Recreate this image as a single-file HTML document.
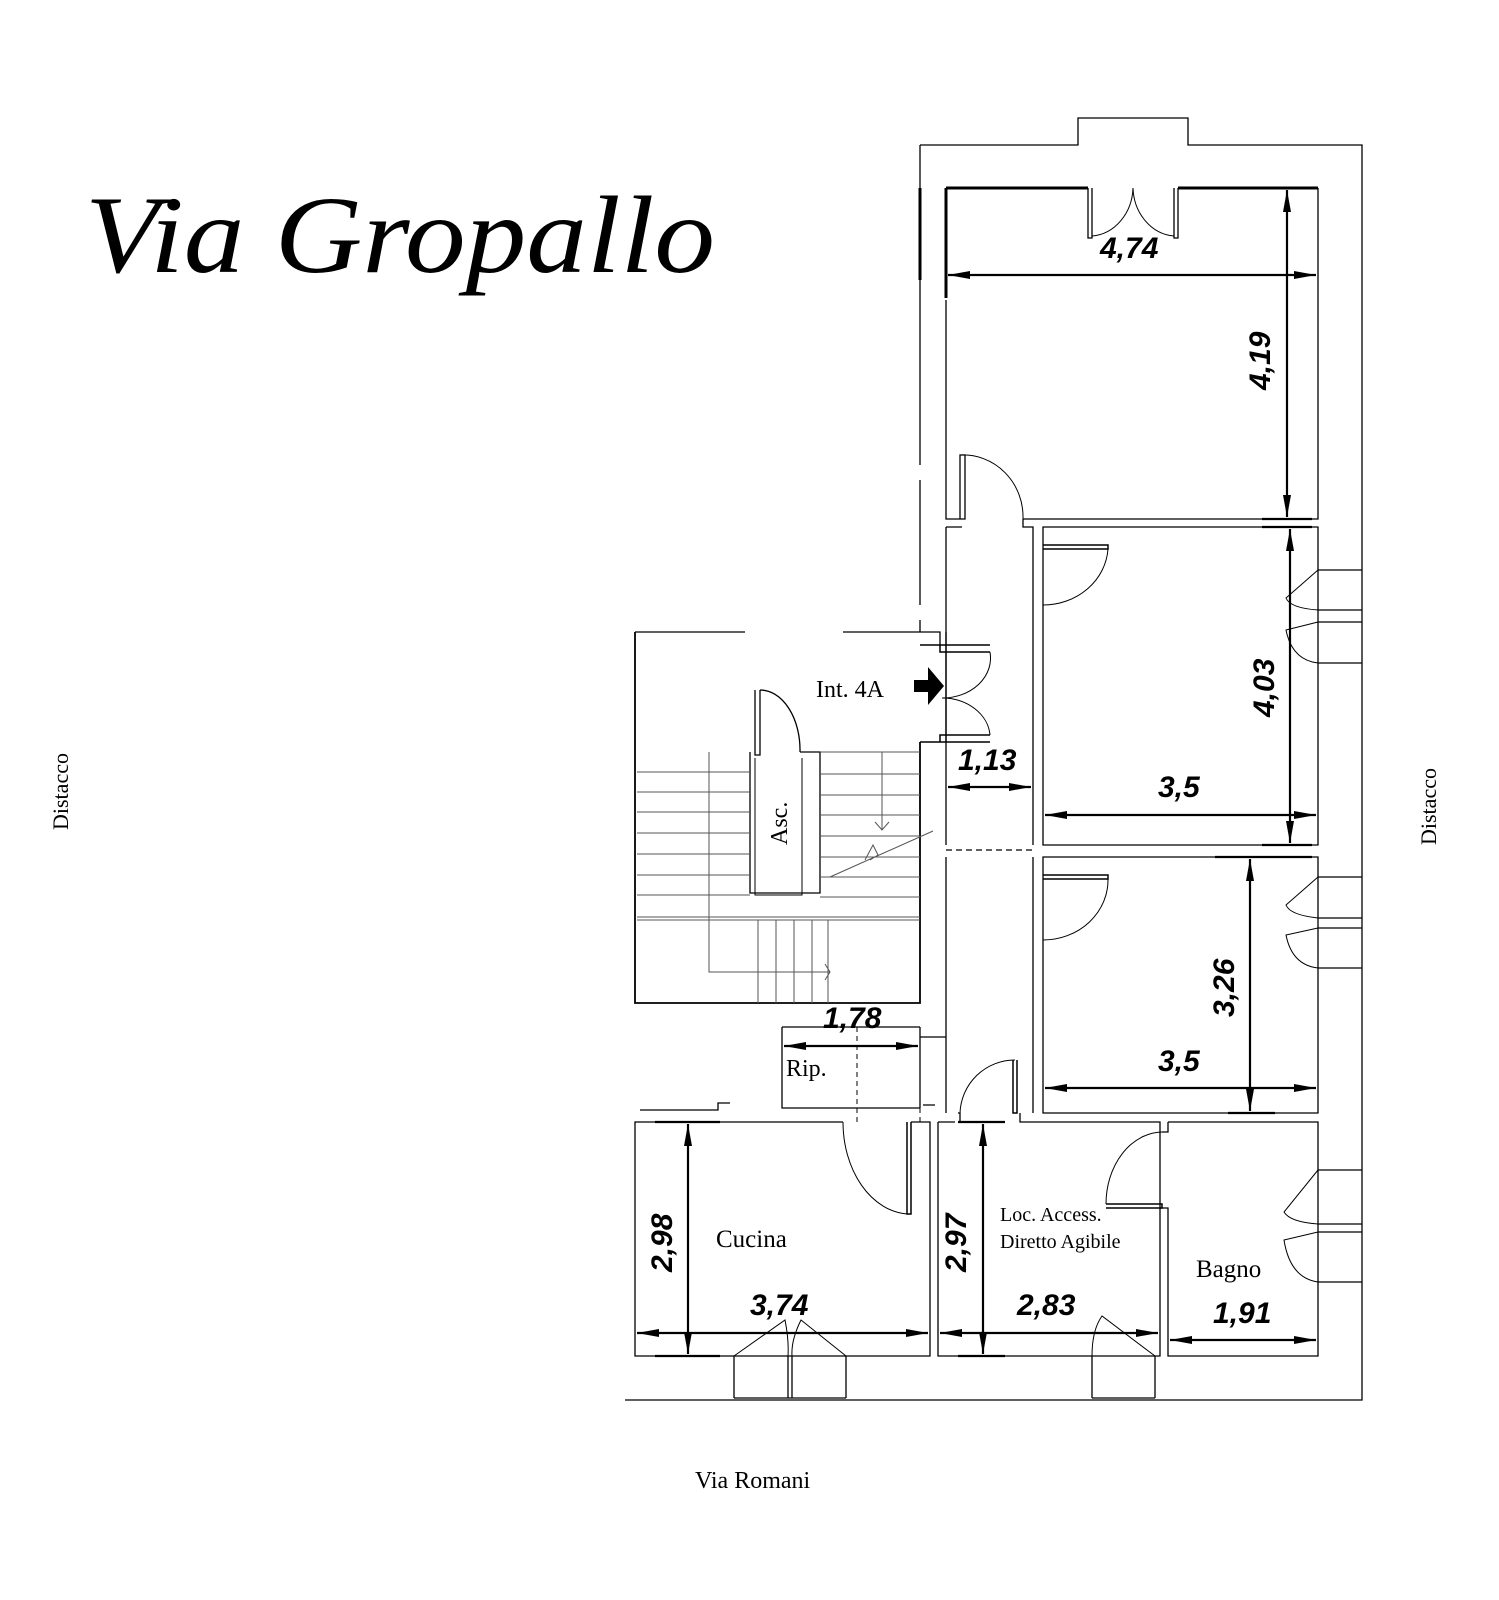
<!DOCTYPE html>
<html><head><meta charset="utf-8"><style>
html,body{margin:0;padding:0;background:#fff;}
svg{display:block;}
.t{font-family:"Liberation Serif",serif;fill:#000;}
.d{font-family:"Liberation Sans",sans-serif;font-weight:bold;font-style:italic;fill:#000;font-size:30px;}
</style></head><body>
<svg width="1499" height="1600" viewBox="0 0 1499 1600" xmlns="http://www.w3.org/2000/svg">
<defs>
<marker id="a" viewBox="0 0 22 10" refX="22" refY="5" markerWidth="22" markerHeight="10" markerUnits="userSpaceOnUse" orient="auto-start-reverse"><path d="M0,1 L22,5 L0,9 z" fill="#000"/></marker>
</defs>
<text class="t" x="85" y="272" font-size="110" font-style="italic" textLength="630" lengthAdjust="spacingAndGlyphs">Via Gropallo</text>
<text class="t" font-size="22" transform="translate(68,830) rotate(-90)">Distacco</text>
<text class="t" font-size="22" transform="translate(1436,845) rotate(-90)">Distacco</text>
<text class="t" font-size="24" x="695" y="1488">Via Romani</text>

<g fill="none" stroke="#000" stroke-width="1.3">
<path d="M920,145 H1078 V118 H1188 V145 H1362 V1400 H625"/>
<path d="M920,145 V465 M920,480 V605 M920,620 V632"/>
<path d="M946,188 V298 M946,300 V519 H965 V455 H960 V519"/>
<path d="M1318,188 V519 H1023"/>
<path d="M1088,188 V238 H1092 V188 M1178,188 V238 H1174 V188"/>
<path d="M1092,236 A44,50 0 0 0 1133,188 M1174,236 A44,50 0 0 1 1133,188" stroke-width="1"/>
<path d="M960,455 A60,62 0 0 1 1023,519" stroke-width="1"/>
<path d="M946,527 H962 M946,527 V845 M946,857 V1113"/>
<path d="M1023,519 V527 H1033 V845 M1033,857 V1113"/>
<path d="M946,850 H1033" stroke-dasharray="6,4"/>
<path d="M1043,527 V845 H1318 V527 Z"/>
<path d="M1043,545 H1108 V549 H1043" stroke-width="1.5"/>
<path d="M1108,549 A65,60 0 0 1 1043,605" stroke-width="1"/>
<path d="M1043,857 V1113 H1318 V857 Z"/>
<path d="M1043,875 H1108 V879 H1043" stroke-width="1.5"/>
<path d="M1108,879 A65,60 0 0 1 1043,940" stroke-width="1"/>
<path d="M1318,570 H1362 M1318,610 H1362 M1318,622 H1362 M1318,663 H1362"/>
<path d="M1318,570 L1286,598 Q1290,608 1318,610 M1318,622 L1286,630 Q1292,660 1318,663" stroke-width="1"/>
<path d="M1318,877 H1362 M1318,918 H1362 M1318,928 H1362 M1318,968 H1362"/>
<path d="M1318,877 L1286,905 Q1290,915 1318,918 M1318,928 L1286,935 Q1292,965 1318,968" stroke-width="1"/>
<path d="M1318,1170 H1362 M1318,1224 H1362 M1318,1232 H1362 M1318,1282 H1362"/>
<path d="M1318,1170 L1284,1212 Q1290,1222 1318,1224 M1318,1232 L1284,1240 Q1290,1278 1318,1282" stroke-width="1"/>
<path d="M920,645 H940 V652 H990 M990,645 H940 M920,742 H940 V735 H990 M990,742 H940" stroke-width="1.5"/>
<path d="M990,652 A48,40 0 0 1 942,698 M990,735 A48,40 0 0 0 942,698" stroke-width="1"/>
<path d="M946,742 V632"/>
<path d="M635,632 V1003 H920 V742" stroke-width="1.8"/>
<path d="M635,632 H745 M843,632 H940 V645"/>
<path d="M755,690 V755 H760 V690 M760,690 A40,60 0 0 1 800,752 M750,752 V893 H820 V752 H800"/>
<path d="M755,758 V895 H802 V758" stroke-width="1"/>
<g stroke="#555" stroke-width="1">
<path d="M637,772 H750 M637,792 H750 M637,812 H750 M637,833 H750 M637,854 H750 M637,875 H750 M637,895 H750 M637,917 H920 M637,920 H920"/>
<path d="M820,752 H920 M820,774 H920 M820,795 H920 M820,815 H920 M820,836 H920 M820,857 H920 M820,877 H920 M820,897 H920"/>
<path d="M758,920 V1003 M776,920 V1003 M794,920 V1003 M812,920 V1003 M828,920 V1003"/>
<path d="M709,752 V972 H830 M825,964 L830,972 L825,980 M882,752 V830 M875,822 L882,830 L889,822"/>
<path d="M830,877 L933,831 M865,860 L873,845 L878,855 L870,860"/>
</g>
<path d="M782,1027 H920 M782,1027 V1108 H920 M920,1027 V1108 M920,1027 V1037 H946"/>
<path d="M857,1027 V1122 M920,1108 V1122 M946,1037 V1113" stroke-dasharray="5,4" stroke-width="1"/>
<path d="M640,1110 H718 V1103 H730 M923,1105 H935"/>
<path d="M843,1122 H635 V1356 H930 V1122 H911"/>
<path d="M907,1122 V1214 H911 V1122" stroke-width="1.5"/>
<path d="M843,1122 A68,92 0 0 0 907,1214" stroke-width="1"/>
<path d="M938,1122 V1356 H1160 V1122 H1035 M955,1122 H938"/>
<path d="M1013,1060 V1113 H1017 V1060" stroke-width="1.5"/>
<path d="M960,1113 A55,55 0 0 1 1015,1060" stroke-width="1"/>
<path d="M958,1113 H960 V1122 M1020,1113 V1122 H1035"/>
<path d="M1168,1122 H1318 V1356 H1168 V1208 H1160 M1168,1122 V1132 H1162"/>
<path d="M1106,1204 H1162 V1208 H1106" stroke-width="1.5"/>
<path d="M1162,1132 A57,72 0 0 0 1106,1204" stroke-width="1"/>
<path d="M734,1356 V1398 M788,1356 V1398 M792,1356 V1398 M846,1356 V1398 M734,1398 H846"/>
<path d="M734,1356 L785,1320 Q789,1340 788,1356 M846,1356 L801,1320 Q791,1340 792,1356" stroke-width="1"/>
<path d="M1092,1356 V1398 M1155,1356 V1398 M1092,1398 H1155"/>
<path d="M1155,1356 L1102,1316 Q1092,1330 1092,1356" stroke-width="1"/>
</g>
<g stroke="#000" stroke-width="3" fill="none">
<path d="M946,188 H1088 M1178,188 H1318"/>
<path d="M946,188 V298"/>
<path d="M920,188 V280"/>
</g>
<path d="M914,680 H928 V667 L944,686 L928,705 V692 H914 Z" fill="#000"/>

<g stroke="#000" stroke-width="2.2" fill="none">
<path d="M948,275 H1316" marker-start="url(#a)" marker-end="url(#a)"/>
<path d="M1287,190 V517" marker-start="url(#a)" marker-end="url(#a)"/>
<path d="M1290,529 V843" marker-start="url(#a)" marker-end="url(#a)"/>
<path d="M1045,815 H1316" marker-start="url(#a)" marker-end="url(#a)"/>
<path d="M1250,859 V1111" marker-start="url(#a)" marker-end="url(#a)"/>
<path d="M1045,1088 H1316" marker-start="url(#a)" marker-end="url(#a)"/>
<path d="M948,787 H1031" marker-start="url(#a)" marker-end="url(#a)"/>
<path d="M784,1046 H918" marker-start="url(#a)" marker-end="url(#a)"/>
<path d="M688,1124 V1354" marker-start="url(#a)" marker-end="url(#a)"/>
<path d="M637,1333 H928" marker-start="url(#a)" marker-end="url(#a)"/>
<path d="M983,1124 V1354" marker-start="url(#a)" marker-end="url(#a)"/>
<path d="M940,1333 H1158" marker-start="url(#a)" marker-end="url(#a)"/>
<path d="M1170,1340 H1316" marker-start="url(#a)" marker-end="url(#a)"/>
<path d="M1262,519 H1312 M1262,527 H1312 M1262,845 H1312 M1215,857 H1312 M1228,1113 H1275 M655,1122 H720 M655,1356 H720 M958,1356 H1005 M958,1122 H1005"/>
</g>
<text class="d" x="1100" y="258">4,74</text>
<text class="d" transform="translate(1270,390) rotate(-90)">4,19</text>
<text class="d" transform="translate(1274,717) rotate(-90)">4,03</text>
<text class="d" x="1158" y="797">3,5</text>
<text class="d" transform="translate(1234,1017) rotate(-90)">3,26</text>
<text class="d" x="1158" y="1071">3,5</text>
<text class="d" x="958" y="770">1,13</text>
<text class="d" x="823" y="1028">1,78</text>
<text class="d" transform="translate(672,1272) rotate(-90)">2,98</text>
<text class="d" x="750" y="1315">3,74</text>
<text class="d" transform="translate(966,1272) rotate(-90)">2,97</text>
<text class="d" x="1017" y="1315">2,83</text>
<text class="d" x="1213" y="1323">1,91</text>

<text class="t" font-size="24" x="816" y="697">Int. 4A</text>
<text class="t" font-size="24" transform="translate(787,845) rotate(-90)">Asc.</text>
<text class="t" font-size="24" x="786" y="1076">Rip.</text>
<text class="t" font-size="25" x="716" y="1247">Cucina</text>
<text class="t" font-size="20" x="1000" y="1221">Loc. Access.</text>
<text class="t" font-size="20" x="1000" y="1248">Diretto Agibile</text>
<text class="t" font-size="25" x="1196" y="1277">Bagno</text>
</svg>
</body></html>
